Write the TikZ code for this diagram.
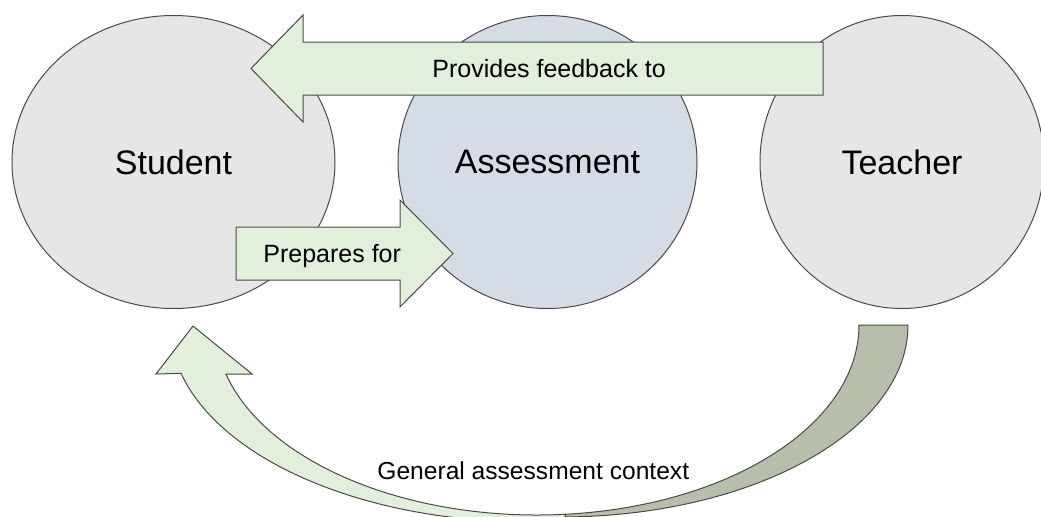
\documentclass[tikz,border=0pt]{standalone}
\usepackage{fontspec}
\setmainfont{Liberation Sans}
\usetikzlibrary{calc,shapes.geometric}

\definecolor{partygray}{HTML}{E7E6E6}
\definecolor{assessblue}{HTML}{D6DCE5}
\definecolor{arrowgreen}{HTML}{E2EFDA}
\definecolor{backgreen}{HTML}{B7BFAB}
\definecolor{edgegray}{HTML}{4A4A4A}

\begin{document}
\begin{tikzpicture}[
    x=0.5pt, y=-0.5pt,
    party/.style={ellipse, draw=edgegray, line width=0.5pt, inner sep=0pt,
        minimum height=146.5pt, font=\fontsize{17pt}{20pt}\selectfont},
    blockarrow/.style={draw=edgegray, fill=arrowgreen, line width=0.5pt, line join=miter},
    backband/.style={blockarrow, fill=backgreen},
    arrowlabel/.style={anchor=base west, inner sep=0pt, font=\fontsize{12.5pt}{15pt}\selectfont},
]
\useasboundingbox (0,0) rectangle (1041,516);
\clip (0,0) rectangle (1041,516);

% ---- Three parties ----
\node[party, fill=partygray, minimum width=161.5pt] (student) at (173.5,162) {Student};
\node[party, fill=assessblue, minimum width=149.5pt] (assessment) at (547.5,162) {Assessment};
\node[party, fill=partygray, minimum width=142pt] (teacher) at (902,162) {Teacher};

% ---- Teacher -> Student ----
\coordinate (fbtail) at (823,68.5);
\coordinate (fbtip) at (251,68.5);
\draw[blockarrow] ($(fbtail)+(0,-26.5)$) -- ($(fbtip)+(52,-26.5)$) -- ++(0,-27) -- (fbtip)
    -- ($(fbtip)+(52,53.5)$) -- ++(0,-27) -- ($(fbtail)+(0,26.5)$) -- cycle;
\node[arrowlabel] (feedbacklabel) at (432,77) {Provides feedback to};

% ---- Student -> Assessment ----
\coordinate (preptail) at (236,253.5);
\coordinate (preptip) at (453,253.5);
\draw[blockarrow] ($(preptail)+(0,-26.5)$) -- ($(preptip)+(-53,-26.5)$) -- ++(0,-27) -- (preptip)
    -- ($(preptip)+(-53,53.5)$) -- ++(0,-27) -- ($(preptail)+(0,26.5)$) -- cycle;
\node[arrowlabel] (prepareslabel) at (263,262) {Prepares for};

% ---- Curved context arrow ----
\coordinate (innerc) at (537,325);
\coordinate (backc) at (560,325);
\coordinate (frontc) at (530,325);
\coordinate (ctxtip) at (193,326);

% back part, coming down from the teacher
\draw[backband] ($(backc)+(0:348 and 192)$) arc[start angle=0, end angle=89, x radius=348, y radius=192]
    -- ($(innerc)+(85:322 and 190)$) arc[start angle=85, end angle=0, x radius=322, y radius=190] -- cycle;

% front part, going up to the student
\draw[blockarrow] ($(frontc)+(84.4:360 and 197)$) arc[start angle=84.4, end angle=165.8, x radius=360, y radius=197]
    -- (156,374) -- (ctxtip) -- (252,374)
    -- ($(innerc)+(165.05:322 and 190)$) arc[start angle=165.05, end angle=85, x radius=322, y radius=190] -- cycle;

\node[arrowlabel, font=\fontsize{12.3pt}{15pt}\selectfont] (contextlabel) at (377,479) {General assessment context};

\end{tikzpicture}
\end{document}
